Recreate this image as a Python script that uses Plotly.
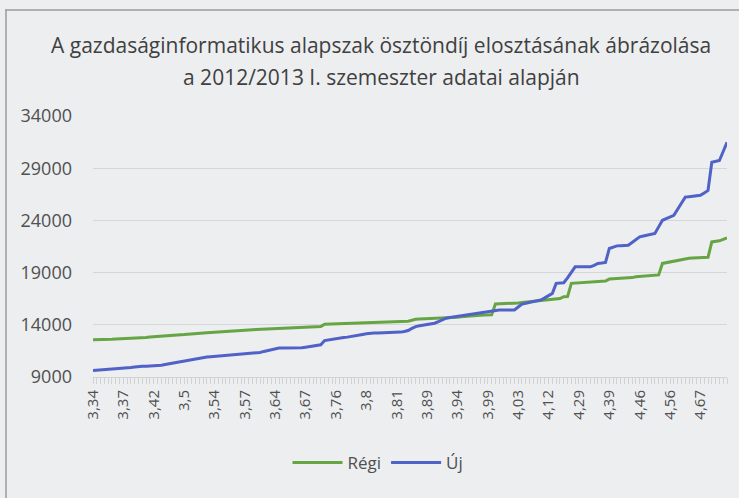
import plotly.graph_objects as go

title_lines = ["A gazdaságinformatikus alapszak ösztöndíj elosztásának ábrázolása",
               "a 2012/2013 I. szemeszter adatai alapján"]

tick_labels = ["3,34", "3,37", "3,42", "3,5", "3,54", "3,57", "3,64", "3,67", "3,76", "3,8",
               "3,81", "3,89", "3,94", "3,99", "4,03", "4,12", "4,29", "4,39", "4,46", "4,56", "4,67"]
label_step = 8

regi = [12560, 12560, 12580, 12600, 12600, 12620, 12640, 12650, 12660, 12680, 12700, 12720, 12740, 12760, 12790,
        12820, 12840, 12860, 12880, 12900, 12930, 12960, 12990, 13020, 13060, 13100, 13140, 13170,
        13200, 13220, 13240, 13260, 13290, 13310, 13330, 13360, 13380, 13410, 13440, 13460, 13490,
        13510, 13530, 13550, 13570, 13590, 13610, 13630, 13650, 13660,
        13670, 13690, 13700, 13720, 13730, 13750, 13760, 13780, 13790, 13810, 13830,
        14060, 14070, 14080, 14090, 14100, 14110, 14130, 14140, 14150, 14170, 14180, 14200,
        14210, 14220, 14230, 14240, 14250, 14260, 14280, 14290, 14300, 14320, 14340, 14430,
        14530, 14550, 14560, 14580, 14600, 14610, 14620, 14630, 14650, 14670, 14690, 14720, 14770, 14810,
        14850, 14870, 14890, 14910, 14930, 14940, 14950,
        15990, 16000, 16010, 16030, 16040, 16060, 16100, 16140, 16180, 16220, 16250, 16280, 16320, 16350,
        16380, 16410, 16440, 16520, 16690, 16700,
        17970, 18000, 18020, 18040, 18060, 18070, 18100, 18130, 18160, 18190, 18380, 18400, 18410, 18420,
        18440, 18450, 18520, 18600, 18640, 18680, 18720, 18740, 18760, 18780,
        19880, 19950, 20030, 20110, 20200, 20280, 20360, 20380, 20400, 20420, 20440, 20450, 20460,
        21940, 21990, 22040, 22180, 22320]

uj = [9630, 9650, 9670, 9690, 9710, 9730, 9760, 9790, 9820, 9860, 9900, 9950,
      10010, 10030, 10040, 10050, 10060, 10080, 10130, 10200,
      10270, 10330, 10400, 10460, 10530, 10590, 10650, 10720, 10780, 10850,
      10910, 10940, 10970, 11000, 11030, 11060, 11100, 11130, 11160, 11190, 11220, 11260, 11290, 11320,
      11350, 11450, 11540, 11620, 11700,
      11770, 11770, 11770, 11770, 11770, 11780, 11800, 11850, 11900, 11960, 12020,
      12080, 12490, 12560, 12630, 12680, 12730, 12780, 12820, 12870, 12940, 13010, 13080, 13150,
      13200, 13210, 13220, 13230, 13240, 13250, 13250, 13260, 13300, 13360, 13450, 13650,
      13830, 13900, 13970, 14040, 14100, 14150, 14310, 14470, 14630, 14700, 14760, 14820, 14880, 14910,
      14940, 15000, 15060, 15120, 15180, 15230, 15330, 15420, 15420, 15420, 15420, 15420, 15420, 15700,
      15990, 16070, 16150, 16230, 16310, 16380, 16580, 16800, 17010, 17970, 18000, 18030, 18500, 19000,
      19550, 19550, 19550, 19550, 19550, 19700, 19880, 19920, 19970,
      21310, 21430, 21560, 21580, 21600, 21620, 21880, 22150, 22420, 22500, 22580, 22660, 22740, 23380,
      24010, 24170, 24330, 24490, 25070, 25650, 26230, 26270, 26320, 26360, 26400, 26630, 26870,
      29570, 29650, 29740, 30600, 31490]

y_ticks = [9000, 14000, 19000, 24000, 29000, 34000]

idx = list(range(len(regi)))
tickvals = [i * label_step for i in range(len(tick_labels))]

bg = "#eceef0"
txt = "#505050"
font_family = "Open Sans, Noto Sans, sans-serif"

fig = go.Figure()
fig.add_trace(go.Scatter(x=idx, y=regi, mode="lines", name="Régi",
                         line=dict(color="#66a544", width=3)))
fig.add_trace(go.Scatter(x=idx, y=uj, mode="lines", name="Új",
                         line=dict(color="#5062c8", width=3)))

fig.update_layout(
    width=739, height=498,
    paper_bgcolor=bg, plot_bgcolor=bg,
    margin=dict(l=93, r=12, t=116, b=121),
    font=dict(family=font_family, color=txt),
    showlegend=True,
    legend=dict(orientation="h", x=(378 - 93) / 634, xanchor="center", y=-0.26, yanchor="top",
                font=dict(size=17, color=txt), bgcolor="rgba(0,0,0,0)", itemwidth=50),
    xaxis=dict(range=[0, len(regi) - 1], tickmode="array", tickvals=tickvals, ticktext=tick_labels,
               tickangle=-90, tickfont=dict(size=15, color=txt), showgrid=False, zeroline=False,
               showline=True, linecolor="#d0d2d4", linewidth=1,
               ticks="outside", ticklen=6, tickcolor="#d0d2d4",
               minor=dict(dtick=1, tick0=0, ticks="outside", ticklen=6, tickcolor="#d0d2d4", showgrid=False)),
    yaxis=dict(range=[9000, 34000], tickmode="array", tickvals=y_ticks,
               ticktext=[str(v) for v in y_ticks],
               tickfont=dict(size=18, color=txt), showgrid=True, gridcolor="#d4d6d8", gridwidth=1,
               zeroline=False, showline=False, ticks="", ticklabelstandoff=20),
)

# two-line title as annotations (pixel-matched line spacing)
for line_text, ypx in zip(title_lines, [45, 77]):
    fig.add_annotation(text=line_text, xref="paper", yref="paper",
                       x=(381 - 93) / 634, y=(377 - ypx) / 261, xanchor="center", yanchor="middle",
                       showarrow=False, font=dict(family=font_family, size=21, color="#404040"))

# chart frame (top and left edges visible in the reference)
fig.add_shape(type="line", xref="paper", yref="paper",
              x0=(5 - 93) / 634, x1=(739 - 93) / 634, y0=(377 - 10) / 261, y1=(377 - 10) / 261,
              line=dict(color="#9a9c9e", width=1.5))
fig.add_shape(type="line", xref="paper", yref="paper",
              x0=(6 - 93) / 634, x1=(6 - 93) / 634, y0=(377 - 10) / 261, y1=(377 - 498) / 261,
              line=dict(color="#9a9c9e", width=1.5))

fig.write_html("out.html", config={"displayModeBar": False},
               post_script="document.body.style.margin='0';")
